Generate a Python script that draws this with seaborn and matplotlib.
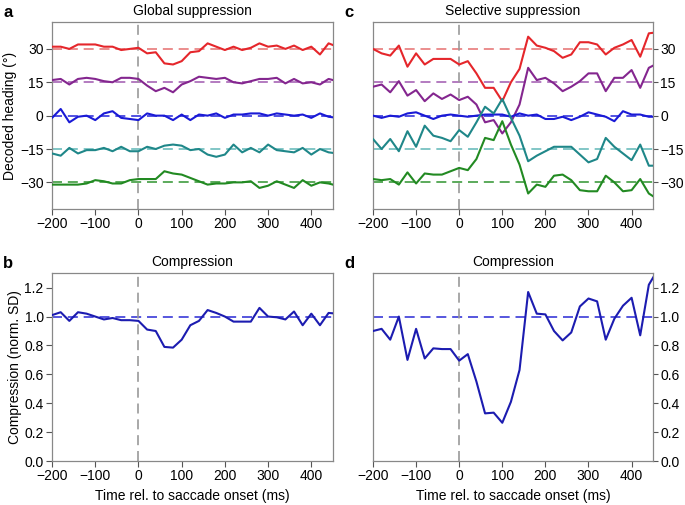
import numpy as np
import pandas as pd
import seaborn as sns
import matplotlib.pyplot as plt

# time axis (ms rel. to saccade onset), 20 ms bins
time_ms = list(range(-200, 461, 20))

headings = [30, 15, 0, -15, -30]
line_colors = ["#e5262b", "#84268f", "#1a1ad6", "#1f8789", "#228a22"]
ref_colors = ["#e87a7a", "#a765b5", "#3535dd", "#6cbcbc", "#3f9c3f"]

# panel a: global suppression, decoded heading per true heading
glob_30 = [31, 31, 30, 32, 32, 32, 31, 31, 29.5, 30, 30.5, 28, 28.5, 23.5, 23, 24.5, 28.5,
           29, 32.5, 31, 29.5, 31, 29.5, 30.5, 32.5, 31, 31.5, 30, 31.5, 29.5, 31, 27.5, 32.5, 31]
glob_15 = [16, 16.5, 14, 16.5, 17, 16.5, 15.5, 15, 17, 17, 16.5, 13.5, 11, 12.5, 10.5, 14, 15.5,
           17.5, 17, 16.5, 17, 15, 14.5, 15.5, 16.5, 16.5, 17, 14.5, 16.5, 14.5, 15, 14, 16.5, 15.5]
glob_0 = [-1, 3, -3, -0.5, 0, -2, 1, 2, -1, -1.5, -2, 1, 0, 0, -2, 0.5, -2,
          0.5, 0, 1, -1, 0.5, 0.5, 1, 1, 0, 1, 0.5, 0, 0.5, -1, 1, -0.5, -1]
glob_m15 = [-17, -18, -14.5, -17, -15.5, -15.5, -14.5, -16, -14, -16, -16, -14, -15, -13.5, -13,
            -13.5, -15.5, -15, -17.5, -18.5, -17.5, -13, -16.5, -14.5, -16.5, -13, -15.5, -16,
            -16.5, -14.5, -17.5, -15, -16.5, -17]
glob_m30 = [-31, -31, -31, -31, -30.5, -29, -29.5, -30.5, -30.5, -29, -28.5, -28.5, -28.5, -25,
            -26, -26.5, -28, -29.5, -31, -30.5, -30.5, -30, -30, -29.5, -32.5, -31.5, -29.5, -31,
            -32.5, -29, -31.5, -30, -30.5, -31.5]

# panel c: selective suppression
sel_30 = [30, 28, 27, 31.5, 22, 28, 23, 25.5, 25.5, 25.5, 23, 24.5, 19, 12.5, 12.5, 6.5, 15,
          21, 35.5, 31.5, 30.5, 29, 26, 27.5, 33, 33, 32, 27.5, 30.5, 32, 34, 26.5, 37, 37.5]
sel_15 = [13, 14, 10.5, 15.5, 9, 11.5, 6.5, 10, 7.5, 9.5, 7, 8.5, 5, -3, -2, -8, -3,
          5, 21.5, 16, 17, 14.5, 11, 13, 15.5, 19, 19, 11, 17, 17, 20.5, 12.5, 21.5, 23.5]
sel_0 = [0, -1, 0, -0.5, 1, 1.5, 0, -1.5, 0, 0.5, 0, -0.5, 0, 0.5, 0.5, 0.5, -0.5,
         1, 0, 0.5, -1.5, -1.5, -0.5, -2, -0.5, 1.5, 0.5, -0.5, -2.5, 2, 0.5, 0.5, -0.5, -0.5]
sel_m15 = [-10.5, -15, -10.5, -16, -7, -14, -4.5, -9, -10, -11.5, -6.5, -9.5, -3, 4, 1, 7.5, -1,
           -9, -20.5, -18, -16, -14, -14, -14, -17.5, -21, -19.5, -10, -14, -17, -20, -13,
           -22.5, -22.5]
sel_m30 = [-28.5, -29, -28.5, -31, -25.5, -30.5, -26, -26.5, -26.5, -25, -23.5, -24.5, -19.5,
           -10, -11, -2.5, -13, -22, -35, -31, -32, -27, -26.5, -29, -33.5, -34, -34, -27, -30,
           -34, -33.5, -28.5, -35, -37.5]

# panels b, d: compression (normalised SD)
comp_global = [1.01, 1.03, 0.97, 1.03, 1.02, 1.0, 0.98, 0.99, 0.975, 0.975, 0.97, 0.91, 0.90,
               0.79, 0.785, 0.84, 0.94, 0.97, 1.045, 1.025, 1.0, 0.965, 0.965, 0.965, 1.06, 1.0,
               0.995, 0.98, 1.035, 0.94, 1.02, 0.94, 1.025, 1.02]
comp_selective = [0.90, 0.915, 0.84, 1.0, 0.70, 0.915, 0.71, 0.78, 0.775, 0.775, 0.695, 0.74,
                  0.55, 0.33, 0.335, 0.265, 0.41, 0.63, 1.17, 1.02, 1.015, 0.90, 0.835, 0.89,
                  1.07, 1.125, 1.105, 0.84, 0.985, 1.075, 1.13, 0.87, 1.22, 1.32]


def long_table(series):
    frames = []
    for h, vals in zip(headings, series):
        frames.append(pd.DataFrame({"time": time_ms, "decoded": vals, "heading": str(h)}))
    return pd.concat(frames, ignore_index=True)


sns.set_theme(style="white")
plt.rcParams["font.family"] = ["Liberation Sans", "DejaVu Sans"]
plt.rcParams["font.size"] = 10
plt.rcParams["axes.unicode_minus"] = True
plt.rcParams["text.color"] = "black"
plt.rcParams["axes.labelcolor"] = "black"
plt.rcParams["xtick.color"] = "black"
plt.rcParams["ytick.color"] = "black"

fig = plt.figure(figsize=(6.85, 5.05), dpi=100)
ax_a = fig.add_axes([0.076, 0.586, 0.410, 0.370])
ax_c = fig.add_axes([0.5445, 0.586, 0.409, 0.370])
ax_b = fig.add_axes([0.076, 0.087, 0.410, 0.372])
ax_d = fig.add_axes([0.5445, 0.087, 0.409, 0.372])

palette = dict(zip([str(h) for h in headings], line_colors))

for ax, series, title in [(ax_a, [glob_30, glob_15, glob_0, glob_m15, glob_m30], "Global suppression"),
                          (ax_c, [sel_30, sel_15, sel_0, sel_m15, sel_m30], "Selective suppression")]:
    for h, c in zip(headings, ref_colors):
        ax.axhline(h, color=c, ls=(0, (6, 3.5)), lw=1.2, zorder=1)
    sns.lineplot(data=long_table(series), x="time", y="decoded", hue="heading",
                 palette=palette, legend=False, lw=1.5, ax=ax, zorder=3)
    ax.set_ylim(-42, 42)
    ax.set_yticks([-30, -15, 0, 15, 30])
    ax.set_title(title, fontsize=10, pad=5)

for ax, vals in [(ax_b, comp_global), (ax_d, comp_selective)]:
    ax.axhline(1.0, color="#3a3ad8", ls=(0, (6, 3.5)), lw=1.2, zorder=1)
    sns.lineplot(x=time_ms, y=vals, color="#1c1cb0", lw=1.5, ax=ax, zorder=3)
    ax.set_ylim(0, 1.3)
    ax.set_yticks([0.0, 0.2, 0.4, 0.6, 0.8, 1.0, 1.2])
    ax.set_yticklabels(["0.0", "0.2", "0.4", "0.6", "0.8", "1.0", "1.2"])
    ax.set_title("Compression", fontsize=10, pad=5)
    ax.set_xlabel("Time rel. to saccade onset (ms)", fontsize=10)

for ax in [ax_a, ax_b, ax_c, ax_d]:
    ax.axvline(0, color="#999999", ls=(0, (6, 3.5)), lw=1.2, zorder=2)
    ax.set_xlim(-200, 450)
    ax.set_xticks([-200, -100, 0, 100, 200, 300, 400])
    ax.tick_params(direction="out", length=4, width=0.8, color="#555555",
                   labelcolor="black", labelsize=10, pad=2, left=True, bottom=True)
    for sp in ax.spines.values():
        sp.set_color("#888888")
        sp.set_linewidth(0.9)
    if ax in (ax_a, ax_c):
        ax.set_xlabel("")
    ax.set_ylabel("")

for ax in [ax_c, ax_d]:
    ax.yaxis.tick_right()
    ax.tick_params(axis="y", right=True, left=False, length=3.5, pad=1.5)

ax_a.set_ylabel("Decoded heading (°)", fontsize=10, labelpad=2)
ax_b.set_ylabel("Compression (norm. SD)", fontsize=10, labelpad=2)

for letter, x, y in [("a", 0.005, 0.975), ("c", 0.503, 0.975), ("b", 0.005, 0.478), ("d", 0.503, 0.478)]:
    fig.text(x, y, letter, fontsize=12, fontweight="bold", va="center")

fig.savefig("out.png", dpi=100)
